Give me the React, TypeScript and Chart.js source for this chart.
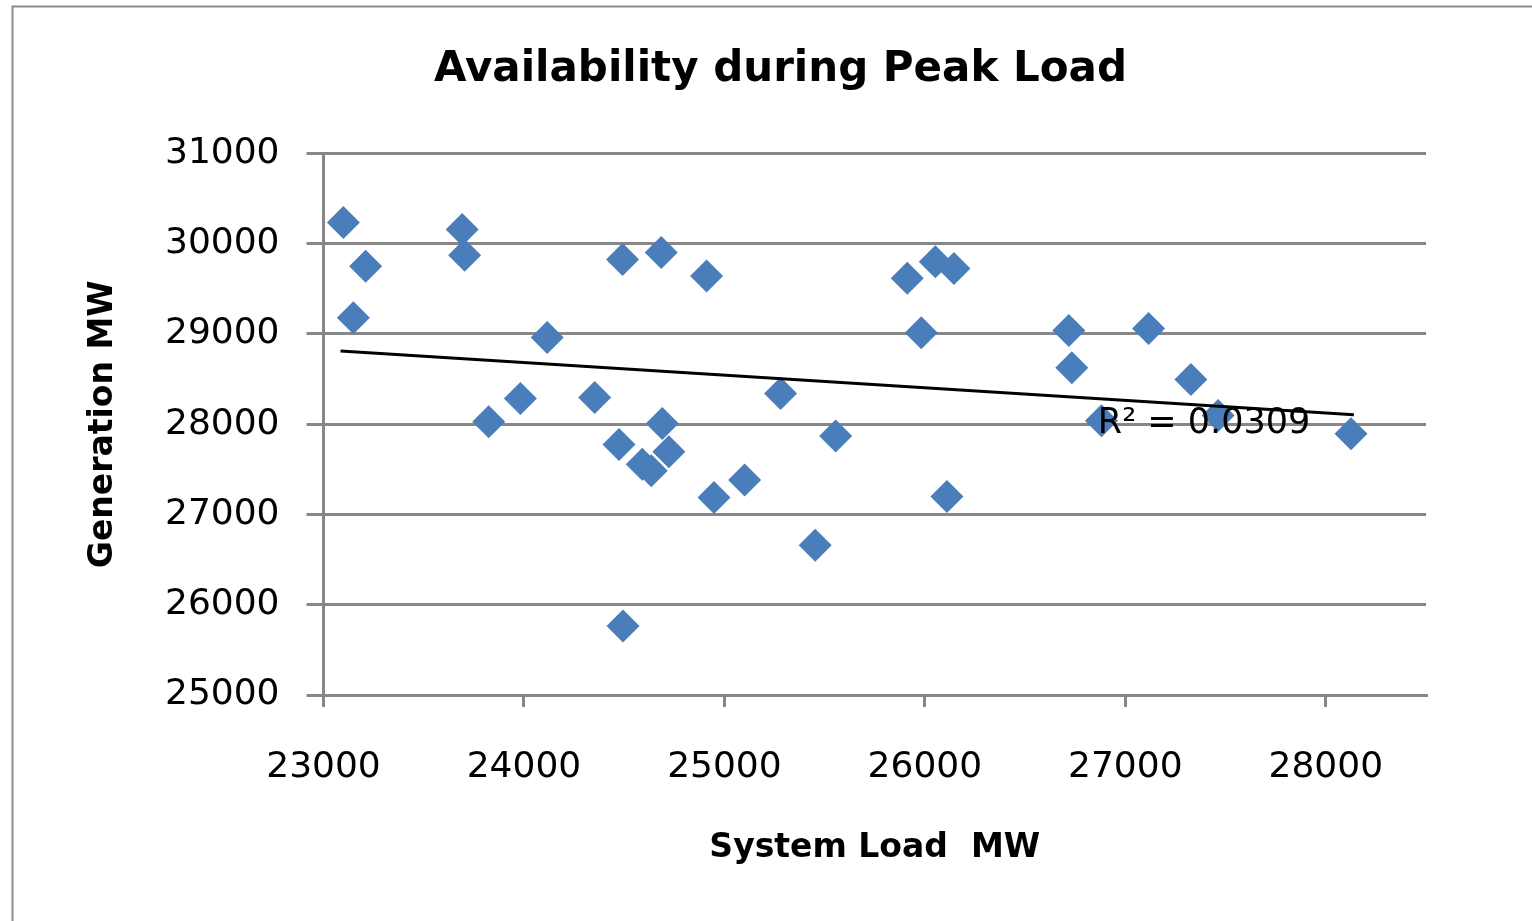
import { useEffect, useRef } from "react";
import { Chart, registerables } from "chart.js";

Chart.register(...registerables);

// ---- Data ----
const systemLoadMW = [
  23099, 23210, 23149, 23692, 23704, 24116, 24492, 24685, 23982, 24353,
  23824, 24690, 24474, 24590, 24635, 24723, 24494, 24911, 25912, 26052,
  26145, 25982, 26718, 26733, 25280, 26881, 25555, 24948, 25101, 25453,
  26110, 27116, 27327, 27463, 28126,
];
const generationMW = [
  30235, 29751, 29178, 30157, 29873, 28961, 29825, 29902, 28286, 28297,
  28027, 28009, 27776, 27555, 27484, 27694, 25764, 29643, 29618, 29799,
  29725, 29012, 29038, 28625, 28341, 28038, 27868, 27189, 27381, 26658,
  27200, 29061, 28496, 28097, 27894,
];
// Linear trendline endpoints (as drawn in the reference)
const trendX = [23085, 28140];
const trendY = [28812, 28105];
const r2Text = "R² = 0.0309";
const r2AnchorX = 26863;
const r2AnchorY = 27901;

const titleText = "Availability during Peak Load";
const xTitle = "System Load  MW";
const yTitle = "Generation MW";
const xTicks = [23000, 24000, 25000, 26000, 27000, 28000];
const yTicks = [25000, 26000, 27000, 28000, 29000, 30000, 31000];
const xMin = 23000;
const xMax = 28500;
const yMin = 25000;
const yMax = 31000;

const FONT = "'DejaVu Sans', sans-serif";
const GRID = "#878787";
const MARKER = "#4A7EBB";

export default function App() {
  const ref = useRef<HTMLCanvasElement | null>(null);

  useEffect(() => {
    const canvas = ref.current;
    if (!canvas) return;

    const annot = {
      id: "annot",
      beforeDraw(chart: any) {
        const ctx = chart.ctx;
        ctx.save();
        ctx.fillStyle = "#ffffff";
        ctx.fillRect(0, 0, chart.width, chart.height);
        ctx.strokeStyle = "#8c8c8c";
        ctx.lineWidth = 2;
        ctx.strokeRect(12.5, 6.5, 4000, 4000);
        ctx.restore();
      },
      afterDatasetsDraw(chart: any) {
        const ctx = chart.ctx;
        const xs = chart.scales.x;
        const ys = chart.scales.y;
        ctx.save();
        ctx.fillStyle = "#000";
        ctx.font = `35px ${FONT}`;
        ctx.textAlign = "left";
        ctx.textBaseline = "alphabetic";
        ctx.fillText(r2Text, xs.getPixelForValue(r2AnchorX), ys.getPixelForValue(r2AnchorY));
        ctx.restore();
      },
    };

    const chart = new Chart(canvas, {
      type: "scatter",
      data: {
        datasets: [
          {
            label: "Linear trend",
            data: trendX.map((x, i) => ({ x, y: trendY[i] })),
            showLine: true,
            borderColor: "#000",
            borderWidth: 3,
            pointRadius: 0,
            fill: false,
            order: 0,
          },
          {
            label: "Generation",
            data: systemLoadMW.map((x, i) => ({ x, y: generationMW[i] })),
            pointStyle: "rectRot",
            pointRadius: 16.5,
            backgroundColor: MARKER,
            borderColor: MARKER,
            borderWidth: 0,
            order: 1,
          },
        ],
      },
      options: {
        animation: false,
        responsive: false,
        devicePixelRatio: 1,
        layout: { padding: 0 },
        plugins: {
          legend: { display: false },
          tooltip: { enabled: false },
          title: {
            display: true,
            text: titleText,
            color: "#000",
            font: { family: FONT, size: 42, weight: "bold" },
            padding: { top: 45, bottom: 58 },
          },
        },
        scales: {
          x: {
            type: "linear",
            position: "bottom",
            min: xMin,
            max: xMax,
            afterBuildTicks: (s: any) => {
              s.ticks = xTicks.map((v) => ({ value: v }));
            },
            ticks: {
              autoSkip: false,
              maxRotation: 0,
              color: "#000",
              padding: 39,
              font: { family: FONT, size: 36 },
              callback: (v: any) => String(v),
            },
            grid: {
              drawOnChartArea: false,
              drawTicks: true,
              tickLength: 12,
              color: GRID,
              lineWidth: 3,
            },
            border: { display: true, color: GRID, width: 3 },
            title: {
              display: true,
              text: xTitle,
              color: "#000",
              font: { family: FONT, size: 33, weight: "bold" },
              padding: { top: 0, bottom: 53 },
            },
            afterFit: (s: any) => {
              s.height = 226;
            },
          },
          y: {
            type: "linear",
            position: "left",
            min: yMin,
            max: yMax,
            afterBuildTicks: (s: any) => {
              s.ticks = yTicks.map((v) => ({ value: v }));
            },
            ticks: {
              color: "#000",
              padding: 27,
              font: { family: FONT, size: 36 },
              callback: (v: any) => String(v),
            },
            grid: {
              drawTicks: true,
              tickLength: 17,
              color: GRID,
              lineWidth: 3,
            },
            border: { display: true, color: GRID, width: 3 },
            title: {
              display: true,
              text: yTitle,
              color: "#000",
              font: { family: FONT, size: 33, weight: "bold" },
              padding: { top: 84, bottom: 0 },
            },
            afterFit: (s: any) => {
              s.width = 323.5;
            },
          },
          rightSpace: {
            type: "linear",
            position: "right",
            display: true,
            grid: { display: false, drawTicks: false },
            border: { display: false },
            ticks: { display: false },
            afterFit: (s: any) => {
              s.width = 135;
            },
          },
        },
      } as any,
      plugins: [annot],
    });

    return () => chart.destroy();
  }, []);

  return (
    <div
      style={{
        position: "fixed",
        left: 0,
        top: 0,
        width: 1532,
        height: 921,
        overflow: "hidden",
        background: "#fff",
      }}
    >
      <canvas
        ref={ref}
        width={1561}
        height={921}
        style={{ display: "block", width: 1561, height: 921 }}
      />
    </div>
  );
}
